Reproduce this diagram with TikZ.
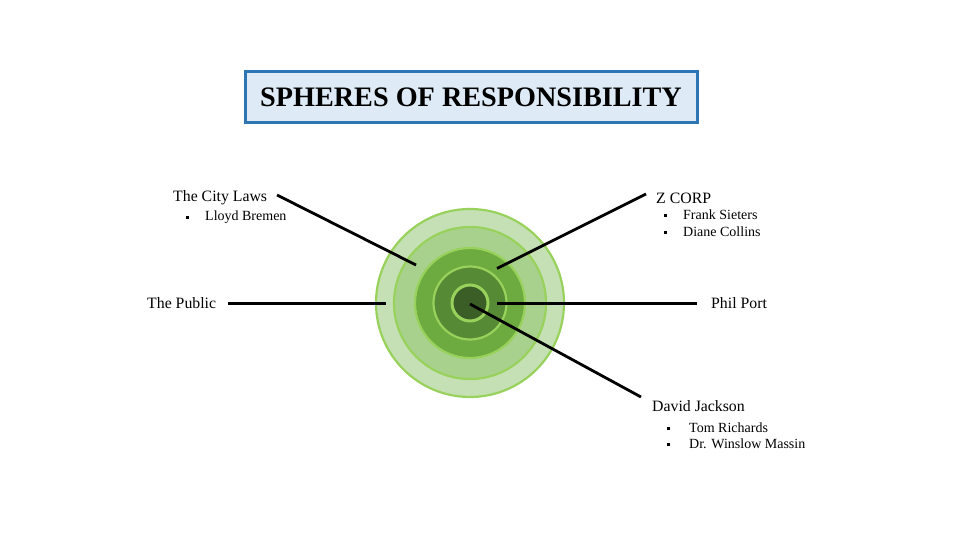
\documentclass[tikz,border=0pt]{standalone}
\usepackage{fontspec}
\setmainfont{Liberation Serif}
\definecolor{ringA}{HTML}{C5E0B4}
\definecolor{ringB}{HTML}{A9D18E}
\definecolor{ringC}{HTML}{6DAA40}
\definecolor{ringD}{HTML}{568A34}
\definecolor{ringE}{HTML}{3B5E27}
\definecolor{ringline}{HTML}{98D25C}
\definecolor{titleline}{HTML}{2E75B6}
\definecolor{titlefill}{HTML}{DEEBF7}
\tikzset{
  ring/.style={draw=ringline, line width=2.2pt},
  lead/.style={draw=black, line width=2.8pt},
  head/.style={anchor=west, inner sep=0pt, font=\fontsize{15.8}{18}\selectfont},
  item/.style={anchor=west, inner sep=0pt, font=\fontsize{14}{16}\selectfont},
  dot/.style={fill=black, minimum width=3pt, minimum height=3.6pt, inner sep=0pt, shape=rectangle},
}
\begin{document}
\begin{tikzpicture}[x=1pt,y=-1pt]
\useasboundingbox (0,0) rectangle (960,540);
% title
\node[draw=titleline, fill=titlefill, line width=3pt, minimum width=452pt, minimum height=51pt,
      font=\fontsize{28.2}{30}\bfseries\selectfont, inner sep=0pt] (title) at (471,97.5) {SPHERES OF RESPONSIBILITY};
% rings
\coordinate (ctr) at (470,303);
\fill[ringA, ring] (ctr) circle[radius=94];
\fill[ringB, ring] (ctr) circle[radius=76];
\fill[ringC, ring] (ctr) circle[radius=55];
\fill[ringD, ring] (ctr) circle[radius=36.5];
\fill[ringE, ring, line width=3pt] (ctr) circle[radius=18];
% labels
\node[head] (laws) at (173,198) {The City Laws};
\node[dot] (b1) at (187,217.5) {};
\node[item] (lloyd) at (205,217) {Lloyd Bremen};
\node[head] (public) at (147,303) {The Public};
\node[head] (zcorp) at (656,198) {Z CORP};
\node[dot] (b2) at (665,215.5) {};
\node[item] (frank) at (683,215) {Frank Sieters};
\node[dot] (b3) at (665,232.5) {};
\node[item] (diane) at (683,232) {Diane Collins};
\node[head] (phil) at (711,303) {Phil Port};
\node[head] (david) at (652,406) {David Jackson};
\node[dot] (b4) at (668,428.5) {};
\node[item] (tom) at (689,428) {Tom Richards};
\node[dot] (b5) at (668,444.5) {};
\node[item] (winslow) at (689,444) {Dr. Winslow Massin};
% connector ends
\coordinate (lawsA) at (277,195);
\coordinate (lawsB) at (416,265);
\coordinate (pubA) at (228,303.5);
\coordinate (pubB) at (386,303.5);
\coordinate (zA) at (646,194);
\coordinate (zB) at (497,268.5);
\coordinate (philA) at (697,303.5);
\coordinate (philB) at (497,303.5);
\coordinate (davA) at (641,397);
\coordinate (davB) at (470,304);
\draw[lead] (lawsA) -- (lawsB);
\draw[lead] (pubA) -- (pubB);
\draw[lead] (zA) -- (zB);
\draw[lead] (philA) -- (philB);
\draw[lead] (davA) -- (davB);
\end{tikzpicture}
\end{document}
